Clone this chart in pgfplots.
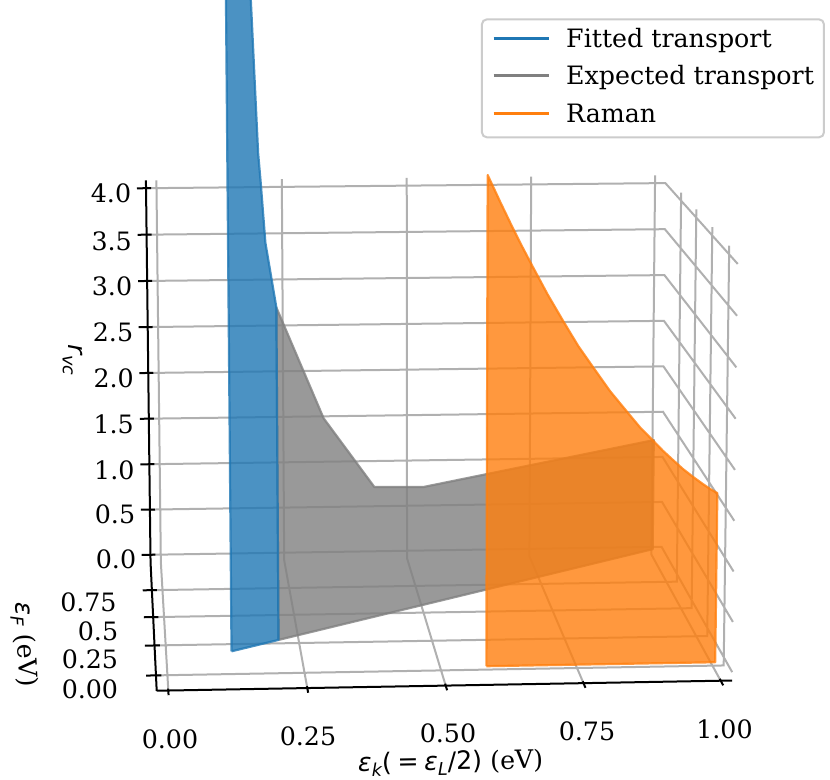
\documentclass[border=0pt]{standalone}
\usepackage{pgfplots}
\pgfplotsset{compat=1.18}
\usepackage{pgfplotstable}
\usepackage{fontspec}
\setmainfont{DejaVu Serif}
\newfontfamily\dvs{DejaVu Sans}
\newfontfamily\dvsi{DejaVu Sans Oblique}
\definecolor{cblue}{HTML}{1F77B4}
\definecolor{cgray}{HTML}{808080}
\definecolor{corange}{HTML}{FF7F0E}
\definecolor{cgrid}{HTML}{B0B0B0}
\definecolor{cleg}{HTML}{CCCCCC}
\newcommand\fs{\fontsize{12.65bp}{14.5bp}\selectfont}
\newcommand\sub[1]{\raisebox{-0.22em}{\fontsize{8.85bp}{9bp}\selectfont\dvsi #1}}

% grid lines on the three back panes (x = eps_k, y = eps_F, z = r_vc)
\pgfplotstableread{
x y z
0 -0.122917 -0.083333
0 1.022917 -0.083333
0 1.022917 4.083333
nan nan nan
0.25 -0.122917 -0.083333
0.25 1.022917 -0.083333
0.25 1.022917 4.083333
nan nan nan
0.5 -0.122917 -0.083333
0.5 1.022917 -0.083333
0.5 1.022917 4.083333
nan nan nan
0.75 -0.122917 -0.083333
0.75 1.022917 -0.083333
0.75 1.022917 4.083333
nan nan nan
1 -0.122917 -0.083333
1 1.022917 -0.083333
1 1.022917 4.083333
nan nan nan
-0.020833 0 -0.083333
1.020833 0 -0.083333
1.020833 0 4.083333
nan nan nan
-0.020833 0.25 -0.083333
1.020833 0.25 -0.083333
1.020833 0.25 4.083333
nan nan nan
-0.020833 0.5 -0.083333
1.020833 0.5 -0.083333
1.020833 0.5 4.083333
nan nan nan
-0.020833 0.75 -0.083333
1.020833 0.75 -0.083333
1.020833 0.75 4.083333
nan nan nan
-0.020833 1.022917 0
1.020833 1.022917 0
1.020833 -0.122917 0
nan nan nan
-0.020833 1.022917 0.5
1.020833 1.022917 0.5
1.020833 -0.122917 0.5
nan nan nan
-0.020833 1.022917 1
1.020833 1.022917 1
1.020833 -0.122917 1
nan nan nan
-0.020833 1.022917 1.5
1.020833 1.022917 1.5
1.020833 -0.122917 1.5
nan nan nan
-0.020833 1.022917 2
1.020833 1.022917 2
1.020833 -0.122917 2
nan nan nan
-0.020833 1.022917 2.5
1.020833 1.022917 2.5
1.020833 -0.122917 2.5
nan nan nan
-0.020833 1.022917 3
1.020833 1.022917 3
1.020833 -0.122917 3
nan nan nan
-0.020833 1.022917 3.5
1.020833 1.022917 3.5
1.020833 -0.122917 3.5
nan nan nan
-0.020833 1.022917 4
1.020833 1.022917 4
1.020833 -0.122917 4
}\tgrid

\pgfplotstableread{
x y z
-0.020833 -0.122917 -0.083333
1.020833 -0.122917 -0.083333
nan nan nan
-0.020833 -0.122917 -0.083333
-0.020833 1.022917 -0.083333
-0.020833 1.022917 4.083333
}\taxes

\pgfplotstableread{
x y z
0 -0.16 -0.083333
0 -0.108 -0.083333
nan nan nan
0.25 -0.16 -0.083333
0.25 -0.108 -0.083333
nan nan nan
0.5 -0.16 -0.083333
0.5 -0.108 -0.083333
nan nan nan
0.75 -0.16 -0.083333
0.75 -0.108 -0.083333
nan nan nan
1 -0.16 -0.083333
1 -0.108 -0.083333
nan nan nan
-0.0388 0 -0.083333
-0.0108 0 -0.083333
nan nan nan
-0.0388 0.25 -0.083333
-0.0108 0.25 -0.083333
nan nan nan
-0.0388 0.5 -0.083333
-0.0108 0.5 -0.083333
nan nan nan
-0.0388 0.75 -0.083333
-0.0108 0.75 -0.083333
nan nan nan
-0.0388 1.022917 0
-0.0108 1.022917 0
nan nan nan
-0.0388 1.022917 0.5
-0.0108 1.022917 0.5
nan nan nan
-0.0388 1.022917 1
-0.0108 1.022917 1
nan nan nan
-0.0388 1.022917 1.5
-0.0108 1.022917 1.5
nan nan nan
-0.0388 1.022917 2
-0.0108 1.022917 2
nan nan nan
-0.0388 1.022917 2.5
-0.0108 1.022917 2.5
nan nan nan
-0.0388 1.022917 3
-0.0108 1.022917 3
nan nan nan
-0.0388 1.022917 3.5
-0.0108 1.022917 3.5
nan nan nan
-0.0388 1.022917 4
-0.0108 1.022917 4
}\tticks

% Expected transport (eps_F = eps_k)
\pgfplotstableread{
x y z
0.21 0.21 0
1.00 1.00 0
1.00 1.00 1.21
0.50 0.50 1.24
0.40 0.40 1.35
0.30 0.30 2.16
0.21 0.21 3.36
0.21 0.21 0
}\tgray

% Fitted transport (eps_F = eps_k)
\pgfplotstableread{
x y z
0.12 0.12 0
0.21 0.21 0
0.21 0.21 3.36
0.19 0.19 4.02
0.182 0.182 4.615
0.1775 0.1775 4.91
0.166 0.166 6.4
0.15 0.15 8.6
0.12 0.12 12
0.12 0.12 0
}\tblue

% Raman
\pgfplotstableread{
x y z
0.58 -0.04 0
1.00 -0.04 0
1.00 -0.04 1.688
0.9865 -0.04 1.732
0.973 -0.04 1.782
0.955 -0.04 1.854
0.9365 -0.04 1.933
0.918 -0.04 2.024
0.900 -0.04 2.114
0.882 -0.04 2.215
0.8575 -0.04 2.350
0.833 -0.04 2.509
0.8025 -0.04 2.710
0.772 -0.04 2.942
0.7445 -0.04 3.154
0.717 -0.04 3.399
0.6885 -0.04 3.661
0.660 -0.04 3.946
0.643 -0.04 4.120
0.626 -0.04 4.300
0.603 -0.04 4.556
0.58 -0.04 4.82
0.58 -0.04 0
}\torange

\pgfkeys{/pgfplots/table/proj/.style={
  x expr={PX(\thisrow{x},\thisrow{y},\thisrow{z})},
  y expr={PY(\thisrow{x},\thisrow{y},\thisrow{z})}}}

\begin{document}
\begin{tikzpicture}[declare function={
 XX(\x)=(\x-0.5)*1.0971;
 YY(\y)=(\y-0.45)*0.99745;
 ZZ(\z)=(\z-2)*0.20571;
 DD(\x,\y,\z)=9.3+0.069672*XX(\x)+0.979151*YY(\y)-0.190809*ZZ(\z);
 PX(\x,\y,\z)=425.22+4454.7*(0.997478*XX(\x)-0.070976*YY(\y))/DD(\x,\y,\z);
 PY(\x,\y,\z)=418.69-4447.1*(0.013543*XX(\x)+0.190328*YY(\y)+0.981627*ZZ(\z))/DD(\x,\y,\z);
}]
\fill[white] (0,0) rectangle (415bp,390bp);
\begin{axis}[
  at={(0,0)}, anchor=south west,
  scale only axis, width=415bp, height=390bp,
  xmin=0, xmax=830, ymin=0, ymax=780, y dir=reverse,
  hide axis, clip=true, unbounded coords=jump,
  legend style={
    at={(0.993976,0.976538)}, anchor=north east,
    draw=cleg, line width=1bp, rounded corners=2.5bp, fill=white,
    inner xsep=5bp, inner ysep=2.5bp, row sep=2.25bp,
    font=\fs,
    nodes={inner sep=0bp, text height=11.5bp, text depth=2.5bp},
    /tikz/every odd column/.append style={column sep=8bp},
  },
  legend cell align=left,
  legend image code/.code={\draw[#1,line width=1.65bp] (0bp,0bp) -- (27.5bp,0bp); \path (0bp,-9bp);},
]
\addplot[forget plot, cgrid, line width=1bp] table[proj] {\tgrid};
\addplot[forget plot, black, line width=1bp] table[proj] {\taxes};
\addplot[forget plot, black, line width=1bp] table[proj] {\tticks};

\addplot[forget plot, fill=cgray, fill opacity=0.8, draw=cgray, draw opacity=0.8,
  line width=1.1bp, line join=round] table[proj] {\tgray};
\addplot[forget plot, fill=cblue, fill opacity=0.8, draw=cblue, draw opacity=0.8,
  line width=1.1bp, line join=round] table[proj] {\tblue};
\addplot[forget plot, fill=corange, fill opacity=0.8, draw=corange, draw opacity=0.8,
  line width=1.1bp, line join=round] table[proj] {\torange};

\addlegendimage{cblue}
\addlegendentry{Fitted transport}
\addlegendimage{cgray}
\addlegendentry{Expected transport}
\addlegendimage{corange}
\addlegendentry{Raman}

% tick labels
\foreach \px/\py/\t in {170/739/0.00, 308/736.5/0.25, 448/733.5/0.50, 587/731.7/0.75, 724.5/729/1.00}{
  \edef\tmp{\noexpand\node[inner sep=0pt, font=\noexpand\fs, anchor=center] at (axis cs:\px,\py) {\t};}\tmp}
\foreach \px/\py/\t in {118.5/689/0.00, 118.5/659/0.25, 118.5/631/0.5, 117/602.5/0.75}{
  \edef\tmp{\noexpand\node[inner sep=0pt, font=\noexpand\fs, anchor=east] at (axis cs:\px,\py) {\t};}\tmp}
\foreach \px/\py/\t in {131.5/193/4.0, 132.2/240.8/3.5, 132.5/286.7/3.0, 133.5/332.5/2.5, 134.2/378.7/2.0, 134.2/424.2/1.5, 134.8/469.8/1.0, 135.5/514.7/0.5, 136.5/559.2/0.0}{
  \edef\tmp{\noexpand\node[inner sep=0pt, font=\noexpand\fs, anchor=east] at (axis cs:\px,\py) {\t};}\tmp}

% axis labels
\node[inner sep=0pt, font=\fs, anchor=base, rotate=1] at (axis cs:450.8,770)
  {{\dvsi ε}\sub{k}{\dvs(\hspace{0.22em}=\hspace{0.22em}}{\dvsi ε}\sub{L}{\dvs/2)} (eV)};
\node[inner sep=0pt, font=\fs, anchor=center, rotate=-87] at (axis cs:24.3,645)
  {{\dvsi ε}\sub{F} (eV)};
\node[inner sep=0pt, font=\fs, anchor=center, rotate=-89.5] at (axis cs:72.5,360)
  {{\dvsi r}\sub{vc}};
\end{axis}
\pgfresetboundingbox
\path[use as bounding box] (0,0) rectangle (415bp,390bp);
\end{tikzpicture}
\end{document}
